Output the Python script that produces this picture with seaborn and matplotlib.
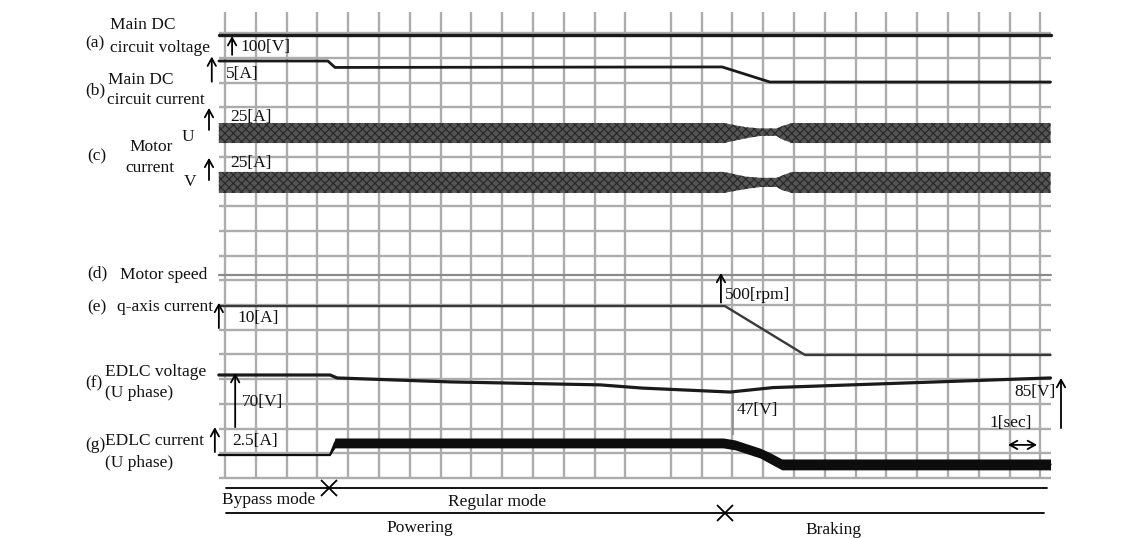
import matplotlib

matplotlib.use("Agg")
import matplotlib.pyplot as plt
import numpy as np
import seaborn as sns

# ---------------------------------------------------------------------------
# Trace data.
# time in seconds (1 grid division = 1 s), level in vertical grid divisions
# ---------------------------------------------------------------------------
T0, T1 = -0.2, 26.8

dc_v_t = [T0, T1]
dc_v = [17.94, 17.94]

dc_i_t = [T0, 3.34, 3.57, 16.14, 17.69, T1]
dc_i = [16.88, 16.88, 16.62, 16.64, 16.03, 16.03]

# motor current envelopes (U and V phase)
mot_t = [T0, 16.2, 16.9, 17.4, 17.9, 18.1, 18.4, T1]
mot_u_hi = [14.37, 14.37, 14.2, 14.15, 14.15, 14.25, 14.37, 14.37]
mot_u_lo = [13.56, 13.56, 13.75, 13.85, 13.85, 13.7, 13.56, 13.56]
mot_v_hi = [12.39, 12.39, 12.2, 12.15, 12.15, 12.25, 12.39, 12.39]
mot_v_lo = [11.54, 11.54, 11.7, 11.78, 11.78, 11.65, 11.54, 11.54]

speed_t = [T0, T1]
speed = [8.22, 8.22]

iq_t = [T0, 16.23, 18.83, T1]
iq = [6.96, 6.96, 4.98, 4.98]

edlc_v_t = [T0, 3.41, 3.64, 7.31, 12.18, 13.54, 16.40, 17.79, T1]
edlc_v = [4.17, 4.17, 4.05, 3.89, 3.77, 3.64, 3.48, 3.66, 4.05]

edlc_i_t = [T0, 3.41, 3.57, 16.17, 16.56, 17.37, 17.69, 18.08, T1]
edlc_i = [0.93, 0.93, 1.42, 1.42, 1.34, 1.01, 0.81, 0.55, 0.55]
edlc_i_ripple = [0.0, 0.0, 0.2, 0.2, 0.2, 0.2, 0.22, 0.22, 0.22]

# operating mode bars
mode_t = [0.03, 26.69]
mode_switch = 3.38
dir_t = [0.03, 26.59]
dir_switch = 16.23

sns.set_theme(style="white")
plt.rcParams["font.family"] = ["Liberation Serif", "DejaVu Serif"]
plt.rcParams["hatch.color"] = "#262626"
plt.rcParams["hatch.linewidth"] = 0.9

fig = plt.figure(figsize=(11.38, 5.38), dpi=100)
ax = fig.add_axes([0, 0, 1, 1])
ax.set_xlim(-7.305, 29.64)
ax.set_ylim(-2.429, 19.35)
ax.axis("off")

# scope grid (the screen is stitched from two captures, right half offset)
GRID_TOP = 18.87
grid_col = "#acacac"
ax.vlines(np.arange(0, 14), 0, GRID_TOP, color=grid_col, lw=1.7, zorder=1)
ax.vlines(np.arange(14, 27) + 0.47, 0, GRID_TOP, color=grid_col, lw=1.7, zorder=1)
ax.hlines(np.arange(0, 19), T0, T1, color=grid_col, lw=1.7, zorder=1)

# traces
line_kw = dict(ax=ax, estimator=None, sort=False, legend=False)
sns.lineplot(x=dc_v_t, y=dc_v, color="#1a1a1a", lw=2.4, zorder=4, **line_kw)
sns.lineplot(x=dc_i_t, y=dc_i, color="#1a1a1a", lw=2.0, zorder=4, **line_kw)

for hi, lo in [(mot_u_hi, mot_u_lo), (mot_v_hi, mot_v_lo)]:
    ax.fill_between(mot_t, lo, hi, facecolor="#555555", edgecolor="#2a2a2a",
                    hatch="xxxx", lw=0, zorder=3)

sns.lineplot(x=speed_t, y=speed, color="#8a8a8a", lw=1.6, zorder=4, **line_kw)
sns.lineplot(x=iq_t, y=iq, color="#3a3a3a", lw=1.7, zorder=4, **line_kw)
sns.lineplot(x=edlc_v_t, y=edlc_v, color="#1a1a1a", lw=2.3, zorder=4, **line_kw)

ei = np.array(edlc_i)
er = np.array(edlc_i_ripple)
ax.fill_between(edlc_i_t, ei - er, ei + er, color="#0d0d0d", lw=0, zorder=3)
sns.lineplot(x=edlc_i_t, y=edlc_i, color="#0d0d0d", lw=1.6, zorder=4, **line_kw)

# mode bars
sns.lineplot(x=mode_t, y=[-0.39, -0.39], color="black", lw=1.3, **line_kw)
sns.lineplot(x=dir_t, y=[-1.42, -1.42], color="black", lw=1.3, **line_kw)
ax.plot([mode_switch], [-0.39], marker="x", ms=11, mew=1.3, color="black")
ax.plot([dir_switch], [-1.42], marker="x", ms=11, mew=1.3, color="black")

# labels
FS = 12.5
txt = dict(fontsize=FS, color="#111111", va="center")
labels = [
    (-3.73, 18.34, "Main DC", "left"),
    (-4.55, 17.61, "(a)", "left"),
    (-3.73, 17.41, "circuit voltage", "left"),
    (-3.80, 16.11, "Main DC", "left"),
    (-4.55, 15.71, "(b)", "left"),
    (-3.83, 15.30, "circuit current", "left"),
    (-1.20, 13.81, "U", "center"),
    (-4.48, 13.00, "(c)", "left"),
    (-2.40, 13.40, "Motor", "center"),
    (-2.44, 12.55, "current", "center"),
    (-1.14, 11.98, "V", "center"),
    (-4.48, 8.30, "(d)", "left"),
    (-3.41, 8.22, "Motor speed", "left"),
    (-4.48, 6.92, "(e)", "left"),
    (-3.51, 6.92, "q-axis current", "left"),
    (-3.90, 4.29, "EDLC voltage", "left"),
    (-4.55, 3.85, "(f)", "left"),
    (-3.90, 3.44, "(U phase)", "left"),
    (-3.90, 1.50, "EDLC current", "left"),
    (-4.55, 1.34, "(g)", "left"),
    (-3.90, 0.61, "(U phase)", "left"),
    (0.49, 17.46, "100[V]", "left"),
    (0.03, 16.36, "5[A]", "left"),
    (0.16, 14.62, "25[A]", "left"),
    (0.16, 12.75, "25[A]", "left"),
    (0.39, 6.48, "10[A]", "left"),
    (0.55, 3.08, "70[V]", "left"),
    (0.23, 1.50, "2.5[A]", "left"),
    (16.23, 7.41, "500[rpm]", "left"),
    (16.62, 2.75, "47[V]", "left"),
    (26.95, 3.48, "85[V]", "right"),
    (24.81, 2.23, "1[sec]", "left"),
    (-0.10, -0.89, "Bypass mode", "left"),
    (8.83, -0.97, "Regular mode", "center"),
    (6.33, -2.02, "Powering", "center"),
    (19.77, -2.11, "Braking", "center"),
]
for x, y, s, ha in labels:
    ax.text(x, y, s, ha=ha, zorder=6, **txt)

# scale arrows (x, bottom, top)
arrows = [
    (0.23, 17.13, 17.89),
    (-0.43, 16.04, 17.06),
    (-0.52, 14.09, 14.98),
    (-0.52, 12.06, 12.96),
    (-0.20, 6.07, 7.09),
    (0.33, 2.06, 4.25),
    (-0.33, 1.05, 2.06),
    (16.10, 7.10, 8.30),
    (27.14, 2.02, 4.05),
]
for x, y0, y1 in arrows:
    ax.annotate("", xy=(x, y1), xytext=(x, y0), zorder=6,
                arrowprops=dict(arrowstyle="->,head_length=0.45,head_width=0.25",
                                lw=1.3, color="black", shrinkA=0, shrinkB=0))

ax.annotate("", xy=(26.36, 1.34), xytext=(25.42, 1.34), zorder=6,
            arrowprops=dict(arrowstyle="<->,head_length=0.45,head_width=0.25",
                            lw=1.3, color="black", shrinkA=0, shrinkB=0))

# 47 V marker line
ax.vlines(16.49, 1.74, 3.48, color="#8c8c8c", lw=1.2, zorder=2)

fig.savefig("out.png", dpi=100)
